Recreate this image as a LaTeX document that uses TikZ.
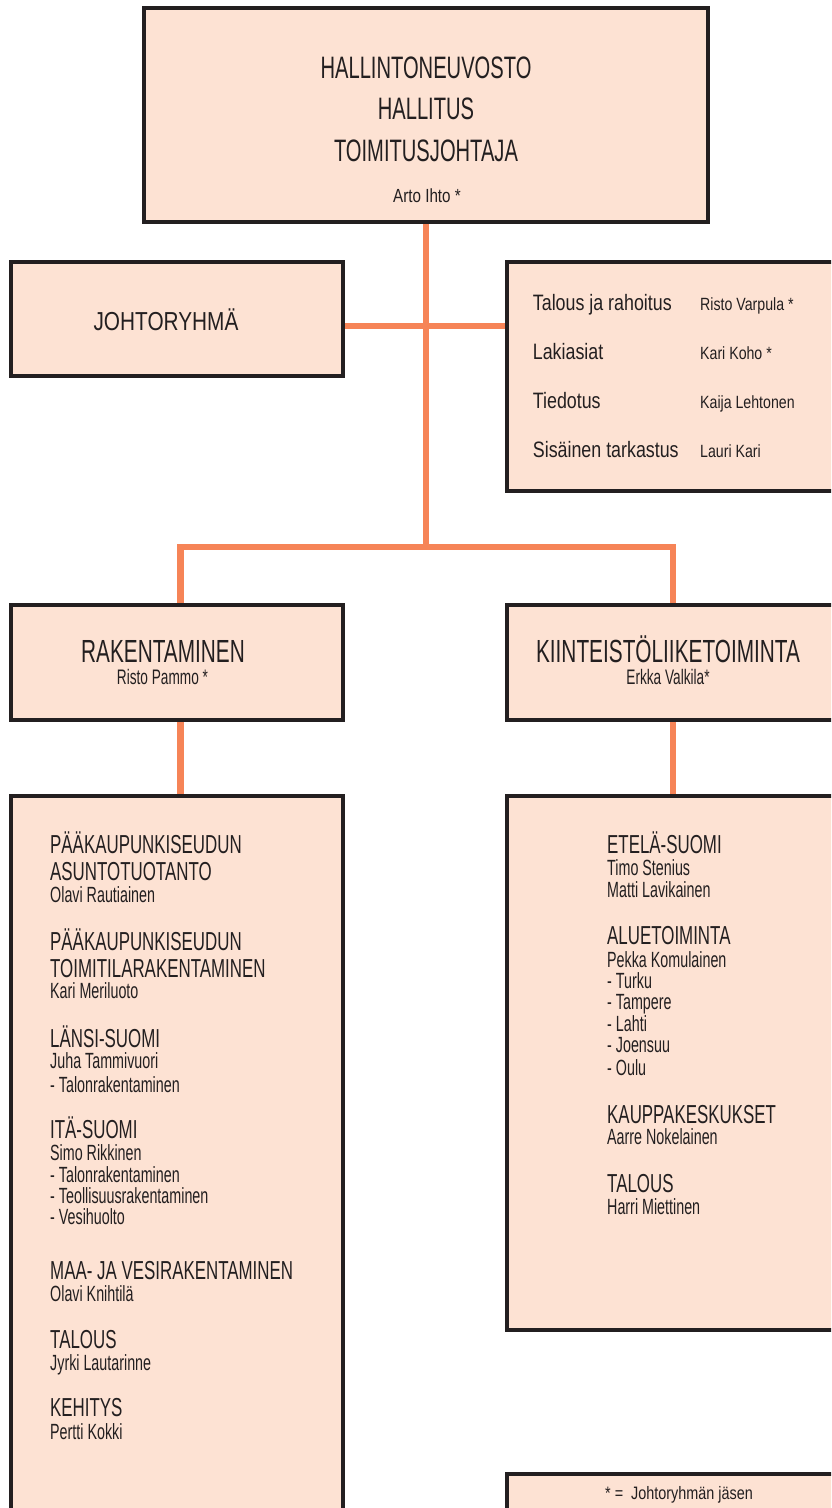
\documentclass[tikz,border=0pt]{standalone}
\usepackage{fontspec}
\setmainfont{Liberation Sans}
\newfontfamily\fA[FakeStretch=0.65]{Liberation Sans}
\newfontfamily\fB[FakeStretch=0.8]{Liberation Sans}
\definecolor{org}{HTML}{F68457}
\definecolor{boxfill}{HTML}{FDE2D3}
\definecolor{ink}{HTML}{231F20}
\pgfdeclarelayer{bg}
\pgfsetlayers{bg,main}
\tikzset{
  orgbox/.style={draw=ink, line width=3.2pt, fill=boxfill, inner sep=0pt, outer sep=0pt, rectangle},
  link/.style={draw=org, line width=6.6pt},
  hd/.style={anchor=base west, inner sep=0pt, text=ink, font=\fA\fontsize{26}{26}\selectfont},
  nm/.style={anchor=base west, inner sep=0pt, text=ink, font=\fA\fontsize{22}{22}\selectfont},
  bigc/.style={anchor=base, inner sep=0pt, text=ink, font=\fA\fontsize{32}{32}\selectfont},
  topc/.style={anchor=base, inner sep=0pt, text=ink, font=\fA\fontsize{31}{31}\selectfont},
  subc/.style={anchor=base, inner sep=0pt, text=ink, font=\fA\fontsize{21}{21}\selectfont},
  stl/.style={anchor=base west, inner sep=0pt, text=ink, font=\fB\fontsize{22.3}{22.3}\selectfont},
  stn/.style={anchor=base west, inner sep=0pt, text=ink, font=\fB\fontsize{17.7}{17.7}\selectfont},
}
\newcommand\hdl[3]{\node[hd] (#1) at (#2) {#3};}
\newcommand\nml[3]{\node[nm] (#1) at (#2) {#3};}
\begin{document}
\begin{tikzpicture}[x=1pt,y=-1pt]
\useasboundingbox (0,0) rectangle (831,1508);
\clip (0,0) rectangle (831,1508);
% boxes
\node[orgbox, minimum width=564pt, minimum height=214pt] (top) at (426,115) {};
\node[orgbox, minimum width=332pt, minimum height=114pt] (johto) at (177,319) {};
\node[orgbox, minimum width=338pt, minimum height=229pt] (staff) at (676,376.5) {};
\node[orgbox, minimum width=332pt, minimum height=115pt] (rak) at (177,662.5) {};
\node[orgbox, minimum width=338pt, minimum height=115pt] (kiin) at (676,662.5) {};
\node[orgbox, minimum width=332pt, minimum height=734pt] (lbig) at (177,1163) {};
\node[orgbox, minimum width=338pt, minimum height=534pt] (rbig) at (676,1063) {};
\node[orgbox, minimum width=338pt, minimum height=56pt] (legend) at (676,1502) {};
% connectors
\coordinate (jL) at (180.5,547);
\coordinate (jR) at (673,547);
\coordinate (jT) at (426,547);
\coordinate (jM) at (426,326);
\begin{pgfonlayer}{bg}
\draw[link] (top.south) -- (jT);
\draw[link] (jM -| johto.east) -- (jM -| staff.west);
\draw[link, line join=miter] (jL |- rak.north) -- (jL) -- (jR) -- (jR |- kiin.north);
\draw[link] (rak.south -| jL) -- (jL |- lbig.north);
\draw[link] (kiin.south -| jR) -- (jR |- rbig.north);
\end{pgfonlayer}
% top box text
\node[topc] (t1) at (426,78) {HALLINTONEUVOSTO};
\node[topc] (t2) at (426,119) {HALLITUS};
\node[topc] (t3) at (426,161) {TOIMITUSJOHTAJA};
\node[anchor=base, inner sep=0pt, text=ink, font=\fB\fontsize{19}{19}\selectfont] (t4) at (427,202) {Arto Ihto *};
% johtoryhma
\node[anchor=base, inner sep=0pt, text=ink, font=\fB\fontsize{26}{26}\selectfont] (jt) at (166,330) {JOHTORYHMÄ};
% staff
\node[stl] (s1) at (532.7,310) {Talous ja rahoitus};
\node[stl] (s2) at (532.7,359) {Lakiasiat};
\node[stl] (s3) at (532.7,408) {Tiedotus};
\node[stl] (s4) at (532.7,457) {Sisäinen tarkastus};
\node[stn] (n1) at (700,310) {Risto Varpula *};
\node[stn] (n2) at (700,359) {Kari Koho *};
\node[stn] (n3) at (700,408) {Kaija Lehtonen};
\node[stn] (n4) at (700,457) {Lauri Kari};
% division boxes
\node[bigc] (rk) at (163,662) {RAKENTAMINEN};
\node[subc] (rkn) at (162.5,684.5) {Risto Pammo *};
\node[bigc] (kt) at (668,662) {KIINTEISTÖLIIKETOIMINTA};
\node[subc] (ktn) at (668,684.5) {Erkka Valkila*};
% left list
\hdl{a1}{50,853}{PÄÄKAUPUNKISEUDUN}
\hdl{a2}{50,880}{ASUNTOTUOTANTO}
\nml{a3}{50,902}{Olavi Rautiainen}
\hdl{b1}{50,950}{PÄÄKAUPUNKISEUDUN}
\hdl{b2}{50,977}{TOIMITILARAKENTAMINEN}
\nml{b3}{50,998}{Kari Meriluoto}
\hdl{c1}{50,1047}{LÄNSI-SUOMI}
\nml{c2}{50,1068}{Juha Tammivuori}
\nml{c3}{50,1092}{- Talonrakentaminen}
\hdl{d1}{50,1138}{ITÄ-SUOMI}
\nml{d2}{50,1160}{Simo Rikkinen}
\nml{d3}{50,1182}{- Talonrakentaminen}
\nml{d4}{50,1203}{- Teollisuusrakentaminen}
\nml{d5}{50,1224}{- Vesihuolto}
\hdl{e1}{50,1279}{MAA- JA VESIRAKENTAMINEN}
\nml{e2}{50,1301}{Olavi Knihtilä}
\hdl{f1}{50,1348}{TALOUS}
\nml{f2}{50,1370}{Jyrki Lautarinne}
\hdl{g1}{50,1416}{KEHITYS}
\nml{g2}{50,1439}{Pertti Kokki}
% right list
\hdl{p1}{607,853}{ETELÄ-SUOMI}
\nml{p2}{607,875}{Timo Stenius}
\nml{p3}{607,897}{Matti Lavikainen}
\hdl{q1}{607,944}{ALUETOIMINTA}
\nml{q2}{607,967}{Pekka Komulainen}
\nml{q3}{607,988}{- Turku}
\nml{q4}{607,1009}{- Tampere}
\nml{q5}{607,1031}{- Lahti}
\nml{q6}{607,1052}{- Joensuu}
\nml{q7}{607,1075}{- Oulu}
\hdl{r1}{607,1123}{KAUPPAKESKUKSET}
\nml{r2}{607,1144}{Aarre Nokelainen}
\hdl{u1}{607,1192}{TALOUS}
\nml{u2}{607,1214}{Harri Miettinen}
% legend
\node[anchor=base, inner sep=0pt, text=ink, font=\fB\fontsize{18}{18}\selectfont] (lg) at (679,1499) {*\ =\ \ Johtoryhmän jäsen};
\end{tikzpicture}
\end{document}
